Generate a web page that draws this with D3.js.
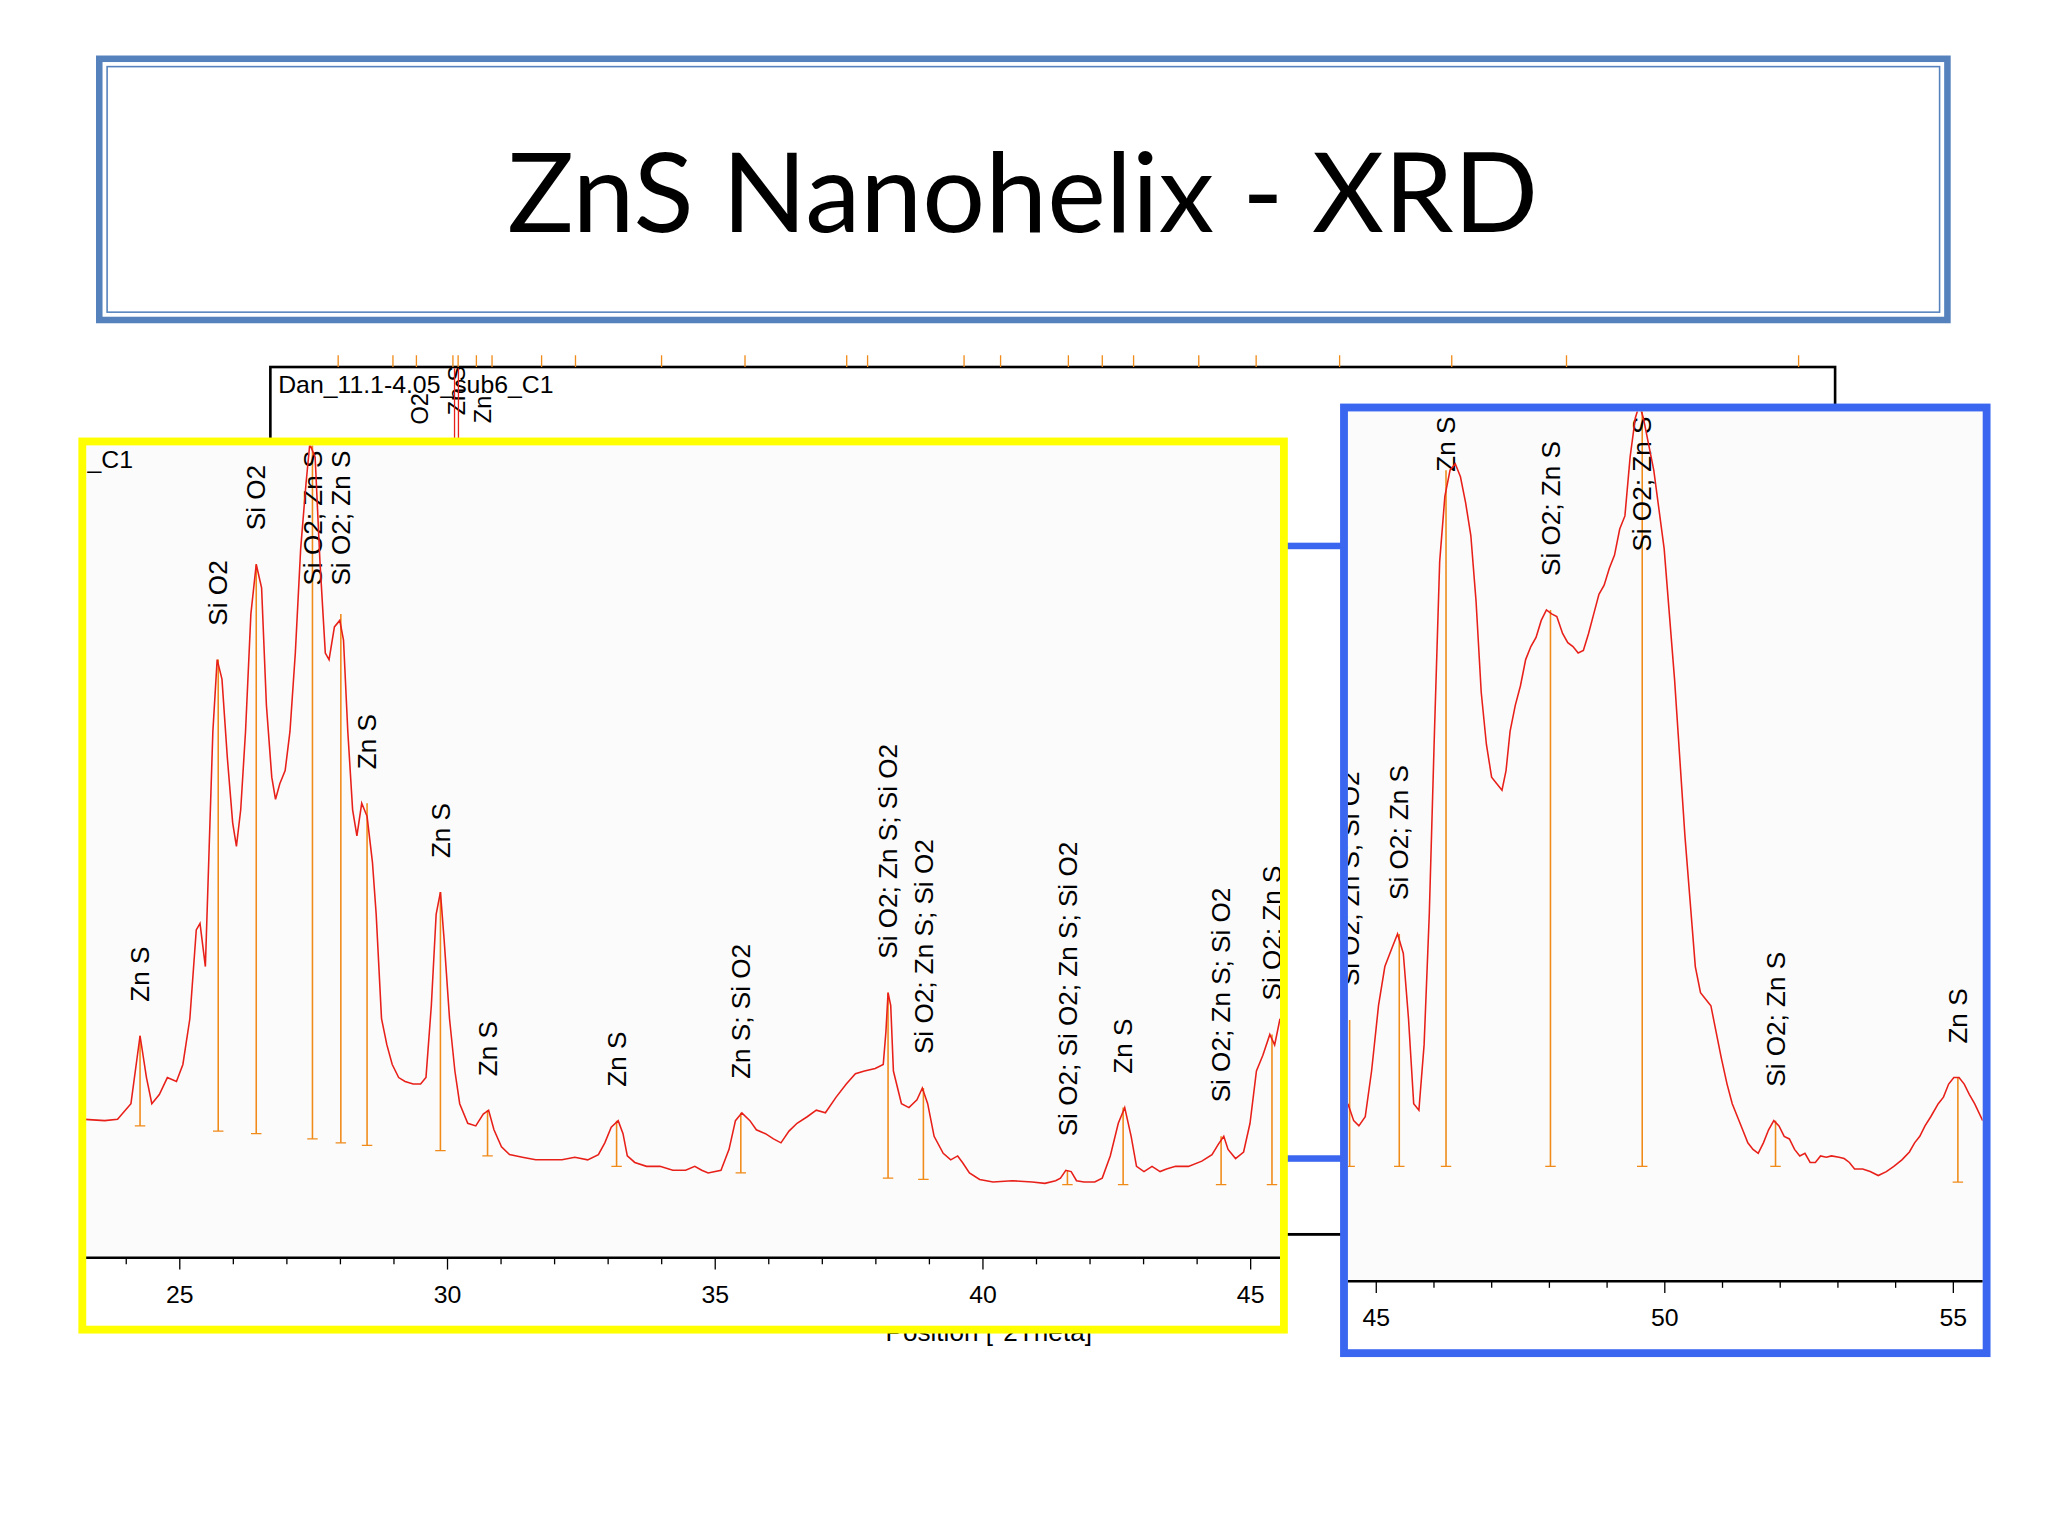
<!DOCTYPE html>
<html><head><meta charset="utf-8">
<script src="https://cdn.jsdelivr.net/npm/d3@7"></script>
<style>html,body{margin:0;padding:0;background:#fff}</style>
</head><body>
<svg id="c" width="2048" height="1536" viewBox="0 0 1568 1176"></svg>
<script>
// ---- data ----
const title = "ZnS Nanohelix - XRD";
const sampleName = "Dan_11.1-4.05_sub6_C1";
const axisTitle = "Position [°2Theta]";
// left (yellow) panel: 2theta and counts (arb.)
const scanA_theta = [23.24,23.61,23.85,24.10,24.27,24.39,24.49,24.63,24.78,24.95,25.07,25.20,25.32,25.39,25.49,25.56,25.63,25.71,25.80,25.90,26.00,26.07,26.15,26.24,26.34,26.44,26.54,26.63,26.73,26.80,26.88,26.98,27.07,27.17,27.27,27.37,27.44,27.54,27.63,27.73,27.80,27.90,28.00,28.07,28.15,28.24,28.32,28.41,28.51,28.61,28.68,28.78,28.88,28.98,29.10,29.22,29.37,29.51,29.61,29.71,29.80,29.88,29.95,30.05,30.15,30.24,30.39,30.54,30.68,30.78,30.88,31.02,31.17,31.41,31.66,31.90,32.15,32.39,32.63,32.83,32.95,33.07,33.20,33.29,33.37,33.51,33.73,33.98,34.22,34.46,34.63,34.76,34.88,35.12,35.27,35.39,35.51,35.66,35.78,35.95,36.10,36.24,36.39,36.54,36.73,36.90,37.07,37.27,37.46,37.63,37.80,38.00,38.15,38.20,38.24,38.29,38.34,38.49,38.63,38.78,38.88,38.98,39.10,39.27,39.41,39.54,39.63,39.76,39.95,40.20,40.56,40.93,41.17,41.37,41.46,41.56,41.66,41.76,41.90,42.10,42.24,42.39,42.54,42.66,42.78,42.88,43.02,43.17,43.32,43.44,43.61,43.85,44.10,44.29,44.41,44.51,44.59,44.73,44.88,45.00,45.12,45.24,45.37,45.46,45.56];
const scanA_counts = [106,105,106,118,170,138,118,125,138,135,148,183,251,256,223,313,403,458,443,383,333,315,343,403,493,531,513,423,368,351,363,373,403,463,543,593,623,613,533,463,458,483,488,473,403,343,323,348,338,303,263,183,163,148,138,135,133,133,138,193,263,280,243,183,143,118,103,101,110,113,98,85,79,77,75,75,75,77,75,79,88,100,105,95,78,73,70,70,67,67,70,67,65,67,83,105,111,105,98,95,91,88,97,103,108,113,111,123,133,141,143,145,148,173,203,193,143,118,115,121,130,118,93,80,75,78,73,65,60,58,59,58,57,59,61,67,66,59,58,58,61,78,103,115,93,70,66,70,66,68,70,70,74,79,87,93,83,76,81,103,143,155,171,163,183];
const peaksA_theta = [24.27,25.73,26.44,27.49,28.02,28.51,29.88,30.76,33.17,35.49,38.24,38.90,41.59,42.63,44.46,45.41];
const peaksA_top = [170,458,531,623,493,348,280,113,105,111,203,130,67,115,93,171];
const peaksA_base = [101,97,95,91,88,86,82,78,70,65,61,60,56,56,56,56];
const peaksA_label = ["Zn S","Si O2","Si O2","Si O2; Zn S","Si O2; Zn S","Zn S","Zn S","Zn S","Zn S","Zn S; Si O2","Si O2; Zn S; Si O2","Si O2; Zn S; Si O2","Si O2; Si O2; Zn S; Si O2","Zn S","Si O2; Zn S; Si O2","Si O2; Zn S"];
// right (blue) panel
const scanB_theta = [44.52,44.62,44.71,44.82,44.93,45.05,45.16,45.29,45.38,45.48,45.57,45.66,45.75,45.84,45.93,46.02,46.11,46.20,46.29,46.38,46.47,46.56,46.65,46.74,46.83,46.92,47.01,47.10,47.19,47.26,47.33,47.42,47.51,47.60,47.69,47.78,47.87,47.96,48.05,48.14,48.24,48.33,48.42,48.51,48.60,48.69,48.78,48.87,48.96,49.05,49.14,49.23,49.32,49.41,49.50,49.57,49.64,49.73,49.82,49.91,50.00,50.09,50.18,50.27,50.36,50.45,50.54,50.63,50.72,50.81,50.90,50.99,51.09,51.18,51.27,51.36,51.45,51.54,51.63,51.72,51.81,51.90,51.99,52.08,52.17,52.26,52.35,52.44,52.53,52.62,52.71,52.81,52.90,53.03,53.12,53.21,53.30,53.44,53.57,53.71,53.85,53.98,54.12,54.25,54.34,54.43,54.52,54.62,54.75,54.84,54.93,55.02,55.11,55.20,55.29,55.38,55.52];
const scanB_counts = [136,123,119,126,161,211,241,256,266,251,201,136,131,181,281,421,551,601,621,626,616,596,571,521,451,411,386,381,376,391,421,441,456,476,486,493,506,514,511,509,496,489,486,481,483,496,511,526,533,546,556,576,586,631,661,671,661,641,621,591,561,511,461,401,341,291,241,221,216,211,191,171,151,136,126,116,106,101,98,106,116,123,119,111,109,101,96,98,91,91,96,95,96,95,94,91,86,86,84,81,84,88,93,99,106,111,119,126,136,141,151,156,156,151,143,136,123];
const peaksB_theta = [44.55,45.41,46.22,48.03,49.62,51.93,55.09];
const peaksB_top = [200,266,621,514,671,123,156];
const peaksB_base = [88,88,88,88,88,88,76];
const peaksB_label = ["Si O2; Zn S; Si O2","Si O2; Zn S","Zn S","Si O2; Zn S","Si O2; Zn S","Si O2; Zn S","Zn S"];
const ticksA = [25,30,35,40,45];
const ticksB = [45,50,55];
// background full scan reference markers (2theta, range 20-80)
const bgMarks = [22.6,24.7,25.6,27.0,27.2,27.9,28.5,30.4,31.7,35.0,38.2,42.1,42.9,46.6,48.0,50.6,51.9,53.1,55.6,57.8,61.0,65.3,69.7,78.6];
const bgDomain = [20,80];

// ---- drawing ----
const svg = d3.select("#c");
const FONT = "'Liberation Sans', Arial, sans-serif";
const red = "#e8201a", orange = "#f08a18";

// title box
svg.append("rect").attr("x",76).attr("y",45).attr("width",1415).attr("height",200)
  .attr("fill","#fff").attr("stroke","#5582bd").attr("stroke-width",5);
svg.append("rect").attr("x",82).attr("y",51).attr("width",1403).attr("height",188)
  .attr("fill","none").attr("stroke","#5582bd").attr("stroke-width",1.2);
svg.append("text").attr("x",783).attr("y",178).attr("text-anchor","middle")
  .attr("font-family","Lato, 'Open Sans', sans-serif").attr("font-size",85).attr("fill","#000").text(title);

// background chart
const bgX = d3.scaleLinear().domain(bgDomain).range([207,1405]);
svg.append("rect").attr("x",207).attr("y",281).attr("width",1198).attr("height",664)
  .attr("fill","#fff").attr("stroke","#000").attr("stroke-width",2);
svg.selectAll(".bgm").data(bgMarks).join("line")
  .attr("x1",d=>bgX(d)).attr("x2",d=>bgX(d)).attr("y1",272).attr("y2",281)
  .attr("stroke",orange).attr("stroke-width",1);
svg.append("text").attr("x",213).attr("y",301).attr("font-family",FONT).attr("font-size",19).text(sampleName);
[[322,"O2",325],[350,"Zn S",318],[370,"Zn",324]].forEach(([x,t,y])=>{
  svg.append("text").attr("transform",`translate(${x+6},${y}) rotate(-90)`)
   .attr("font-family",FONT).attr("font-size",18).text(t);
});
[348,351].forEach(x=>svg.append("line").attr("x1",x).attr("x2",x).attr("y1",282).attr("y2",337).attr("stroke",red).attr("stroke-width",1));
svg.append("text").attr("x",757).attr("y",1027).attr("text-anchor","middle").attr("font-family",FONT).attr("font-size",20).text(axisTitle);
svg.append("line").attr("x1",985).attr("x2",1028).attr("y1",945).attr("y2",945).attr("stroke","#000").attr("stroke-width",2);
// blue rect behind
svg.append("rect").attr("x",900).attr("y",418).attr("width",140).attr("height",469)
  .attr("fill","none").attr("stroke","#3a66f0").attr("stroke-width",5);

function panel(o){
  const g = svg.append("g");
  const id = "clip"+o.name;
  g.append("clipPath").attr("id",id).append("rect")
    .attr("x",o.px0).attr("y",o.py0).attr("width",o.px1-o.px0).attr("height",o.axisY-o.py0);
  g.append("rect").attr("x",o.bx).attr("y",o.by).attr("width",o.bw).attr("height",o.bh).attr("fill","#fff");
  g.append("rect").attr("x",o.px0).attr("y",o.py0).attr("width",o.px1-o.px0).attr("height",o.axisY-o.py0).attr("fill","#fbfbfb");
  const x = d3.scaleLinear().domain(o.domain).range([o.px0,o.px1]);
  const y = d3.scaleLinear().domain([0,1000]).range([o.axisY,o.axisY-1000]);
  const inner = g.append("g").attr("clip-path",`url(#${id})`);
  const pk = o.pTheta.map((t,i)=>({t,top:o.pTop[i],base:o.pBase[i],lab:o.pLab[i]}));
  inner.selectAll(".stk").data(pk).join("line")
    .attr("x1",d=>x(d.t)).attr("x2",d=>x(d.t)).attr("y1",d=>y(d.top)).attr("y2",d=>y(d.base))
    .attr("stroke",orange).attr("stroke-width",1.2);
  inner.selectAll(".cap").data(pk).join("line")
    .attr("x1",d=>x(d.t)-4).attr("x2",d=>x(d.t)+4).attr("y1",d=>y(d.base)).attr("y2",d=>y(d.base))
    .attr("stroke",orange).attr("stroke-width",1);
  const labs = inner.selectAll(".lab").data(pk).join("text")
    .attr("font-family",FONT).attr("font-size",20).attr("fill","#000").text(d=>d.lab);
  labs.each(function(d){
    const len = this.getComputedTextLength();
    const sy = Math.max(y(d.top)-26, o.py0 + len + 4);
    d3.select(this).attr("transform",`translate(${x(d.t)+7},${sy}) rotate(-90)`);
  });
  const pts = o.theta.map((t,i)=>[t,o.counts[i]]);
  inner.append("path").attr("d",d3.line().x(d=>x(d[0])).y(d=>y(d[1]))(pts))
    .attr("fill","none").attr("stroke",red).attr("stroke-width",1.2);
  const ax = g.append("g").attr("transform",`translate(0,${o.axisY})`)
    .call(d3.axisBottom(x).tickValues(o.ticks).tickFormat(d3.format("d")).tickSize(9).tickPadding(12));
  const minor = d3.range(Math.ceil(o.domain[0]),Math.floor(o.domain[1])+1).filter(v=>v%5);
  g.append("g").attr("transform",`translate(0,${o.axisY})`)
    .call(d3.axisBottom(x).tickValues(minor).tickFormat("").tickSize(5)).select(".domain").remove();
  g.selectAll(".tick line").attr("stroke","#000");
  ax.select(".domain").attr("stroke","#000").attr("stroke-width",2).attr("d",`M${o.px0},0H${o.px1}`);
  ax.selectAll("text").attr("font-family",FONT).attr("font-size",19).attr("fill","#000");
  if(o.extra) o.extra(g);
  g.append("rect").attr("x",o.bx).attr("y",o.by).attr("width",o.bw).attr("height",o.bh)
    .attr("fill","none").attr("stroke",o.color).attr("stroke-width",6);
}
panel({name:"A",bx:63,by:338,bw:920,bh:680,px0:65,px1:980,py0:341,axisY:963,
  domain:[23.24,45.56],theta:scanA_theta,counts:scanA_counts,pTheta:peaksA_theta,pTop:peaksA_top,
  pBase:peaksA_base,pLab:peaksA_label,ticks:ticksA,color:"#ffff00",
  extra:g=>g.append("text").attr("x",67).attr("y",358).attr("font-family",FONT).attr("font-size",19).text("_C1")});
panel({name:"B",bx:1029,by:312,bw:492,bh:724,px0:1032,px1:1518,py0:315,axisY:981,
  domain:[44.52,55.52],theta:scanB_theta,counts:scanB_counts,pTheta:peaksB_theta,pTop:peaksB_top,
  pBase:peaksB_base,pLab:peaksB_label,ticks:ticksB,color:"#3a66f0"});
</script>
</body></html>
